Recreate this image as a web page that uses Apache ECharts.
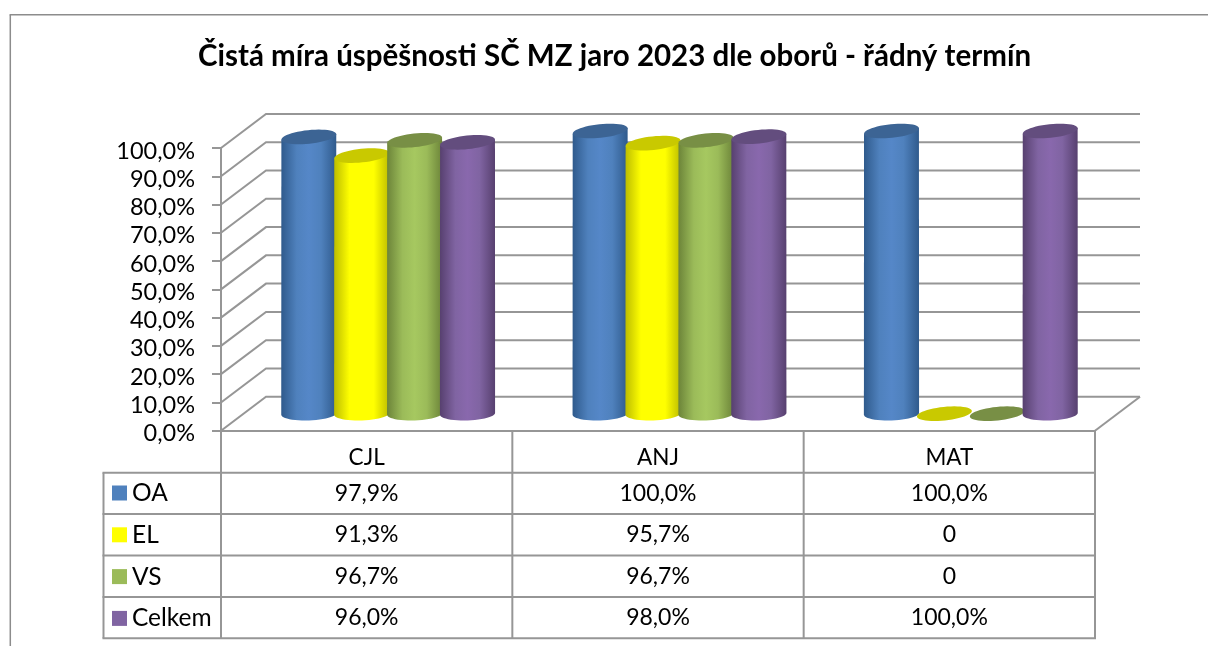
<!DOCTYPE html>
<html style="height: 100%">
<head>
<meta charset="UTF-8" />
<title>Čistá míra úspěšnosti</title>
<style>
html, body { margin: 0; padding: 0; background: #ffffff; }
#box { width: 1208px; height: 646px; }
</style>
</head>
<body>
<div id="box"></div>
<script src="https://cdn.jsdelivr.net/npm/echarts@6/dist/echarts.min.js"></script>
<script>
var titleText = 'Čistá míra úspěšnosti SČ MZ jaro 2023 dle oborů - řádný termín';
var categories = ['CJL', 'ANJ', 'MAT'];
var seriesNames = ['OA', 'EL', 'VS', 'Celkem'];
var oaValues = [97.9, 100, 100];
var elValues = [91.3, 95.7, 0];
var vsValues = [96.7, 96.7, 0];
var celkemValues = [96.0, 98.0, 100];
var yTicks = [0, 10, 20, 30, 40, 50, 60, 70, 80, 90, 100];

var allValues = [oaValues, elValues, vsValues, celkemValues];
var fontName = 'Lato';
var lineColor = '#969696';

// hrany, stred, svetly stred, vrsek
var colors = [
	{ main: '#4F81BD', edge: '#2F5A8C', light: '#5587C8', top: '#3C6494' },
	{ main: '#FFFF00', edge: '#BDBD00', light: '#FFFF00', top: '#C9C900' },
	{ main: '#9BBB59', edge: '#6C8439', light: '#A6C860', top: '#788F45' },
	{ main: '#8064A2', edge: '#57406F', light: '#8968AD', top: '#634D7E' }
];

// geometrie grafu
var gridLeft = 221, gridTop = 148, gridW = 874, gridH = 282.7;
var depthX = 45, depthY = -34;
var barW = 52.9, rx = 27.6, ry = 6.8, shiftX = -1;
var topTilt = -6 * Math.PI / 180, bottomTilt = -2 * Math.PI / 180;
var tableTop = 472.7, rowH = 41.4, tableLeft = 103.5, tableBottom = 638.3;

function fmt(v) {
	if (v === 0) return '0';
	return v.toFixed(1).replace('.', ',') + '%';
}
function yLabel(v) {
	return v.toFixed(1).replace('.', ',') + '%';
}
function ellipsePoint(cx, cy, t, tilt) {
	return [
		cx + rx * Math.cos(t) * Math.cos(tilt) - ry * Math.sin(t) * Math.sin(tilt),
		cy + rx * Math.cos(t) * Math.sin(tilt) + ry * Math.sin(t) * Math.cos(tilt)
	];
}
function cylinder(idx) {
	return function(params, api) {
		var cat = api.value(0), val = api.value(1);
		var base = api.coord([cat, 0]);
		var top = api.coord([cat, val]);
		var cx = base[0] + depthX / 2 + shiftX + (idx - 1.5) * barW;
		var by = base[1] + depthY / 2;
		var ty = top[1] + depthY / 2;
		var c = colors[idx];
		var i, children = [];
		if (val > 0) {
			var body = [];
			for (i = 0; i <= 24; i++) body.push(ellipsePoint(cx, by, Math.PI - Math.PI * i / 24, bottomTilt));
			body.push(ellipsePoint(cx, ty, 0, topTilt));
			body.push(ellipsePoint(cx, ty, Math.PI, topTilt));
			children.push({
				type: 'polygon',
				shape: { points: body },
				style: {
					fill: {
						type: 'linear', x: 0, y: 0, x2: 1, y2: 0,
						colorStops: [
							{ offset: 0, color: c.edge },
							{ offset: 0.28, color: c.main },
							{ offset: 0.5, color: c.light },
							{ offset: 0.72, color: c.main },
							{ offset: 1, color: c.edge }
						]
					}
				}
			});
		}
		var cap = [];
		for (i = 0; i < 48; i++) cap.push(ellipsePoint(cx, ty, Math.PI * 2 * i / 48, topTilt));
		children.push({ type: 'polygon', shape: { points: cap }, style: { fill: c.top } });
		return { type: 'group', children: children };
	};
}
function wallLines(params, api) {
	var rect = params.coordSys;
	var y = api.coord([0, api.value(1)])[1];
	var left = rect.x, right = rect.x + rect.width;
	var children = [{
		type: 'polyline',
		shape: { points: [[left, y], [left + depthX, y + depthY], [right + depthX, y + depthY]] },
		style: { stroke: lineColor, lineWidth: 2, fill: null }
	}];
	if (api.value(1) === 0) {
		children.push({
			type: 'line',
			shape: { x1: right, y1: y, x2: right + depthX, y2: y + depthY },
			style: { stroke: lineColor, lineWidth: 2 }
		});
	}
	return { type: 'group', children: children };
}

var series = [{
	type: 'custom',
	silent: true,
	clip: false,
	z: 1,
	renderItem: wallLines,
	data: yTicks.map(function(v) { return [0, v]; })
}];
seriesNames.forEach(function(name, idx) {
	series.push({
		name: name,
		type: 'custom',
		clip: false,
		z: 3 + idx,
		itemStyle: { color: colors[idx].main },
		renderItem: cylinder(idx),
		data: allValues[idx].map(function(v, i) { return [i, v]; })
	});
});

// tabulka pod grafem
var graphics = [];
function gLine(x1, y1, x2, y2, w, col) {
	graphics.push({
		type: 'line', silent: true,
		shape: { x1: x1, y1: y1, x2: x2, y2: y2 },
		style: { stroke: col || lineColor, lineWidth: w || 2 }
	});
}
// ramecek
gLine(10.3, 14.7, 10.3, 646, 1.5, '#8c8c8c');
gLine(9.6, 14.7, 1208, 14.7, 1.5, '#8c8c8c');
// svisle cary
var y0 = gridTop + gridH;
gLine(gridLeft, y0, gridLeft, tableBottom);
for (var k = 1; k <= categories.length; k++) {
	gLine(gridLeft + k * gridW / 3, y0, gridLeft + k * gridW / 3, tableBottom);
}
gLine(tableLeft, tableTop, tableLeft, tableBottom);
for (var r = 0; r <= seriesNames.length; r++) {
	gLine(tableLeft - 1, tableTop + r * rowH, gridLeft + gridW + 1, tableTop + r * rowH);
}
allValues.forEach(function(vals, r) {
	vals.forEach(function(v, c) {
		graphics.push({
			type: 'text', silent: true,
			style: {
				x: gridLeft + (c + 0.5) * gridW / 3,
				y: tableTop + (r + 0.5) * rowH,
				text: fmt(v),
				font: '23px ' + fontName,
				fill: '#000000',
				align: 'center',
				verticalAlign: 'middle'
			}
		});
	});
});

var chart = echarts.init(document.getElementById('box'));
chart.setOption({
	animation: false,
	backgroundColor: '#ffffff',
	title: {
		text: titleText,
		left: 609.5,
		top: 36,
		textAlign: 'center',
		textStyle: { fontFamily: fontName, fontWeight: 'bold', fontSize: 29.5, color: '#000000' }
	},
	legend: {
		left: 107,
		top: 475.5,
		height: 170,
		orient: 'vertical',
		icon: 'rect',
		itemWidth: 15,
		itemHeight: 15,
		itemGap: 16.8,
		selectedMode: false,
		data: seriesNames,
		textStyle: { fontFamily: fontName, fontSize: 24.5, color: '#000000', lineHeight: 22 }
	},
	grid: { left: gridLeft, top: gridTop, width: gridW, height: gridH },
	xAxis: {
		type: 'category',
		data: categories,
		axisTick: { show: false },
		axisLine: { lineStyle: { color: lineColor, width: 2 } },
		axisLabel: { margin: 16, fontFamily: fontName, fontSize: 22.5, color: '#000000' }
	},
	yAxis: {
		type: 'value',
		min: 0,
		max: 100,
		interval: 10,
		splitLine: { show: false },
		axisLine: { show: true, lineStyle: { color: lineColor, width: 2 } },
		axisTick: { show: true, length: 9, lineStyle: { color: lineColor, width: 2 } },
		axisLabel: {
			margin: 26, fontFamily: fontName, fontSize: 23.5, color: '#000000',
			verticalAlign: 'top', lineHeight: 6,
			formatter: function(v) { return yLabel(v); }
		}
	},
	graphic: graphics,
	series: series
});
</script>
</body>
</html>
